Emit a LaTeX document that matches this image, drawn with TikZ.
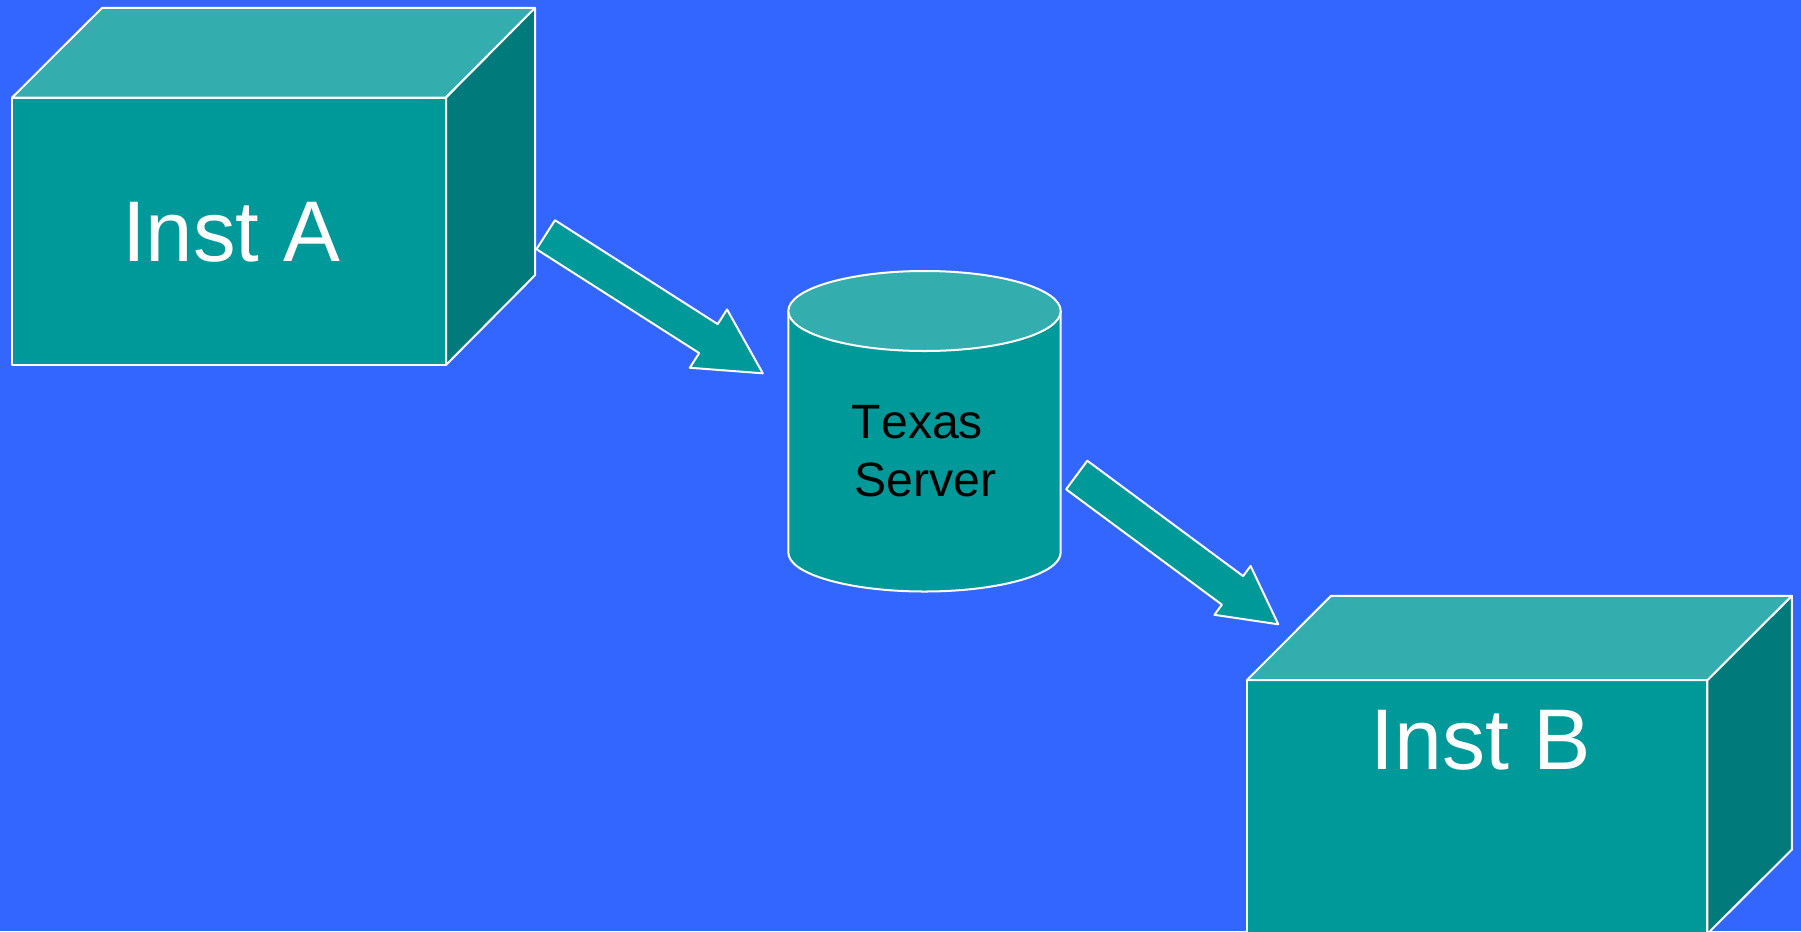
\documentclass[tikz,border=0pt]{standalone}
\usepackage{fontspec}
\setmainfont{Liberation Sans}
\definecolor{slideblue}{RGB}{51, 102, 255}
\definecolor{tealfront}{RGB}{0, 153, 153}
\definecolor{tealtop}{RGB}{51, 173, 173}
\definecolor{tealside}{RGB}{0, 122, 122}
\usetikzlibrary{calc}
\tikzset{
  edge/.style={draw=white, line width=0.57pt, line join=round},
  frontface/.style={edge, fill=tealfront, rectangle, inner sep=0pt, outer sep=0pt},
  topface/.style={edge, fill=tealtop},
  sideface/.style={edge, fill=tealside},
  instlabel/.style={text=white, anchor=base, inner sep=0pt, font=\fontsize{24.5}{28}\selectfont},
  serverlabel/.style={text=black, anchor=base, inner sep=0pt, font=\fontsize{13.7}{16}\selectfont},
  flowarrow/.style n args={3}{edge, fill=tealfront, to path={
    ($(\tikztostart)!#1!-90:(\tikztotarget)$)
    -- ($(\tikztotarget)!#3!(\tikztostart)!#1!-90:(\tikztotarget)$)
    -- ($(\tikztotarget)!#3!(\tikztostart)!#2!-90:(\tikztotarget)$)
    -- (\tikztotarget)
    -- ($(\tikztotarget)!#3!(\tikztostart)!#2!90:(\tikztotarget)$)
    -- ($(\tikztotarget)!#3!(\tikztostart)!#1!90:(\tikztotarget)$)
    -- ($(\tikztostart)!#1!90:(\tikztotarget)$)
    -- cycle}}
}
\begin{document}
\begin{tikzpicture}
  \fill[slideblue] (0, 0) rectangle (18.01, 9.31);
  \useasboundingbox (0, 0) rectangle (18.01, 9.31);

  % Inst A
  \node[frontface, minimum width=4.34cm, minimum height=2.673cm] (instA) at (2.29, 6.997) {};
  \draw[topface] (instA.north west) -- ++(0.9, 0.897) -- ++(4.33, 0) -- (instA.north east) -- cycle;
  \draw[sideface] (instA.north east) -- ++(0.89, 0.897) -- ++(0, -2.673) -- (instA.south east) -- cycle;
  \node[instlabel, xscale=0.99, transform shape] (labelA) at (2.31, 6.695) {Inst A};

  % Inst B, its lower edge runs off the page
  \node[frontface, minimum width=4.607cm, minimum height=2.536cm] (instB) at (14.771, 1.24) {};
  \draw[topface] (instB.north west) -- ++(0.842, 0.843) -- ++(4.61, 0) -- (instB.north east) -- cycle;
  \draw[sideface] (instB.north east) -- ++(0.845, 0.843) -- ++(0, -2.536) -- (instB.south east) -- cycle;
  \node[instlabel] (labelB) at (14.81, 1.617) {Inst B};

  % Texas server
  \draw[frontface] (7.883, 6.2) -- (7.883, 3.785) arc[start angle=180, end angle=360, x radius=1.362, y radius=0.39]
    -- (10.607, 6.2) -- cycle;
  \draw[topface] (9.245, 6.2) ellipse[x radius=1.362, y radius=0.4];
  \node[serverlabel] (texas) at (9.175, 4.927) {\addfontfeatures{Kerning=Off}Texas};
  \node[serverlabel] (server) at (9.255, 4.35) {Server};

  % Block arrows
  \coordinate (flowAtail) at (5.457, 6.963);
  \coordinate (flowAtip) at (7.628, 5.577);
  \coordinate (flowBtail) at (10.767, 4.56);
  \coordinate (flowBtip) at (12.783, 3.067);
  \draw[flowarrow={0.172cm}{0.346cm}{0.645cm}] (flowAtail) to (flowAtip);
  \draw[flowarrow={0.178cm}{0.304cm}{0.57cm}] (flowBtail) to (flowBtip);
\end{tikzpicture}
\end{document}
